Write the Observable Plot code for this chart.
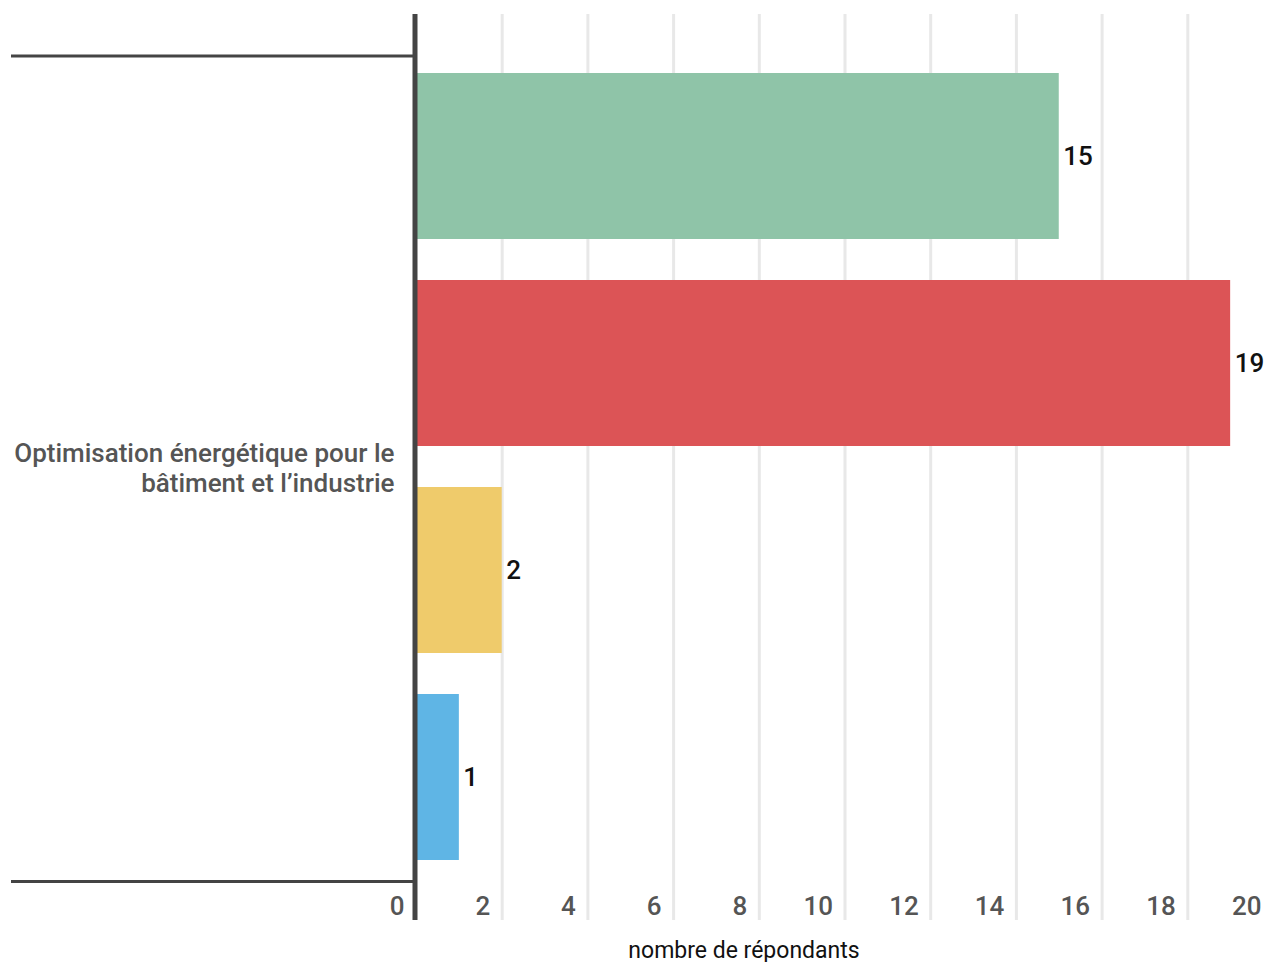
<!DOCTYPE html>
<html>
<head>
<meta charset="utf-8">
<script src="https://cdn.jsdelivr.net/npm/d3@7"></script>
<script src="https://cdn.jsdelivr.net/npm/@observablehq/plot@0.6"></script>
<style>
  html, body { margin: 0; padding: 0; background: #fff; overflow: hidden; }
  #chart svg { display: block; max-width: none !important; }
</style>
</head>
<body>
<div id="chart"></div>
<script>
const categories = ["Optimisation énergétique pour le bâtiment et l’industrie"];
const series = ["Série A", "Série B", "Série C", "Série D"];
const values = [15, 19, 2, 1];
const colors = ["#8fc4a8", "#dc5456", "#efcb6b", "#5fb5e5"];
const xTicks = [0, 2, 4, 6, 8, 10, 12, 14, 16, 18, 20];
const axisLabel = "nombre de répondants";

const data = series.map((s, i) => ({category: categories[0], series: s, value: values[i]}));

const font = "Roboto, 'Noto Sans', sans-serif";

const chart = Plot.plot({
  width: 1290,
  height: 962,
  marginLeft: 416,
  marginRight: 17,
  marginTop: 14,
  marginBottom: 42,
  style: {fontFamily: font, background: "#fff", maxWidth: "none"},
  x: {domain: [0, 20], axis: null},
  y: {domain: series, axis: null, paddingInner: 0.198, paddingOuter: 0.287},
  color: {domain: series, range: colors},
  marks: [
    // vertical gridlines
    Plot.ruleX(xTicks.filter(d => d > 0), {stroke: "#e8e8e8", strokeWidth: 3}),
    // category band boundaries
    Plot.frame({anchor: "top", stroke: "#444", strokeWidth: 3, strokeOpacity: 1, insetTop: 41.5, insetLeft: -404, insetRight: 859}),
    Plot.frame({anchor: "bottom", stroke: "#444", strokeWidth: 3, strokeOpacity: 1, insetBottom: 39, insetLeft: -404, insetRight: 859}),
    // bars
    Plot.barX(data, {y: "series", x: "value", fill: "series"}),
    // axis line
    Plot.ruleX([0], {stroke: "#444", strokeWidth: 5, dx: -1.5}),
    // value labels
    Plot.text(data, {y: "series", x: "value", text: d => String(d.value), textAnchor: "start", dx: 4,
      fill: "#111", fontSize: 26, fontWeight: 500}),
    // x tick labels
    Plot.text(xTicks, {x: d => d, text: d => String(d), frameAnchor: "bottom", lineAnchor: "bottom",
      textAnchor: "end", dx: -12, dy: -6, fill: "#555", fontSize: 26, fontWeight: 500}),
    // category label
    Plot.text(categories, {text: d => d.replace("pour le ", "pour le\n"), frameAnchor: "left", textAnchor: "end",
      lineAnchor: "middle", dx: -22, fill: "#555", fontSize: 26, fontWeight: 500, lineHeight: 1.15}),
    // x axis title
    Plot.text([axisLabel], {text: d => d, frameAnchor: "bottom", lineAnchor: "bottom", dx: -101, dy: 37,
      fill: "#111", fontSize: 23})
  ]
});
document.getElementById("chart").append(chart);
</script>
</body>
</html>
